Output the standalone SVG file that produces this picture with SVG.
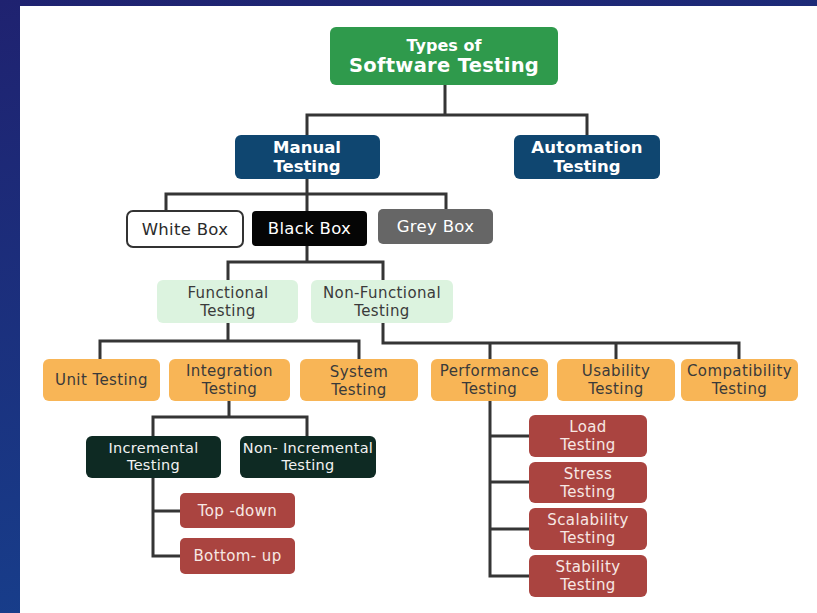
<svg xmlns="http://www.w3.org/2000/svg" width="817" height="613" viewBox="0 0 817 613">
  <defs>
    <linearGradient id="bg" x1="0" y1="0" x2="0.3" y2="1">
      <stop offset="0" stop-color="#1f2270"/>
      <stop offset="1" stop-color="#173f8c"/>
    </linearGradient>
  </defs>
  <style>
    text { font-family: "DejaVu Sans", "Open Sans", sans-serif; text-anchor: middle; }
    .root { fill: #2f9a4c; }
    .navy { fill: #0f4670; }
    .wbox { fill: #ffffff; stroke: #333333; stroke-width: 2; }
    .bbox { fill: #050505; }
    .gbox { fill: #666666; }
    .mint { fill: #dcf3df; }
    .orange { fill: #f8b556; }
    .dark { fill: #0e2a23; }
    .red { fill: #aa4440; }
    .tw { fill: #ffffff; font-weight: 700; }
    .tb { font-size: 16.5px; letter-spacing: 0.3px; }
    .tm { fill: #3a3a3a; font-size: 15px; letter-spacing: 0.4px; }
    .to { fill: #3a3a3a; font-size: 15px; letter-spacing: 0.4px; }
    .td { fill: #f2f2f2; font-size: 14.5px; letter-spacing: 0.3px; }
    .tr { fill: #f7e8e4; font-size: 15px; letter-spacing: 0.4px; }
    .conn { fill: none; stroke: #353535; stroke-width: 3; stroke-linejoin: miter; }
  </style>

  <rect width="817" height="613" fill="url(#bg)"/>
  <rect x="20" y="6" width="797" height="607" fill="#ffffff"/>

  <g id="connectors" class="conn">
    <path d="M445 85 V115 M307 135 V115 H587 V135"/>
    <path d="M307 179 V194 M166 211 V194 H446 V209 M307 194 V211"/>
    <path d="M307 246 V262 M228 280 V262 H383 V280"/>
    <path d="M228 323 V341 M100 359 V341 H359 V359"/>
    <path d="M383 323 V343 H739 V359 M490 343 V359 M616 343 V359"/>
    <path d="M229 401 V417 M153 436 V417 H307 V436"/>
    <path d="M153 478 V556 H180 M153 511 H180"/>
    <path d="M490 401 V576 H530 M490 436 H530 M490 482 H530 M490 529 H530"/>
  </g>

  <g id="root">
    <rect class="root" x="330" y="27" width="228" height="58" rx="6"/>
    <text class="tw" x="444" y="51" font-size="16">Types of</text>
    <text class="tw" x="444" y="72" font-size="19.5" letter-spacing="0.3">Software Testing</text>
  </g>

  <g id="manual">
    <rect class="navy" x="235" y="135" width="145" height="44" rx="6"/>
    <text class="tw" x="307" y="153" font-size="16.5">Manual</text>
    <text class="tw" x="307" y="172" font-size="16.5">Testing</text>
  </g>
  <g id="automation">
    <rect class="navy" x="514" y="135" width="146" height="44" rx="6"/>
    <text class="tw" x="587" y="153" font-size="16.5" letter-spacing="0.3">Automation</text>
    <text class="tw" x="587" y="172" font-size="16.5">Testing</text>
  </g>

  <g id="white-box">
    <rect class="wbox" x="127" y="211" width="116" height="36" rx="6"/>
    <text class="tb" x="185" y="235" fill="#2a2a2a">White Box</text>
  </g>
  <g id="black-box">
    <rect class="bbox" x="252" y="211" width="115" height="35" rx="4"/>
    <text class="tb" x="309.5" y="234" fill="#ffffff">Black Box</text>
  </g>
  <g id="grey-box">
    <rect class="gbox" x="378" y="209" width="115" height="35" rx="5"/>
    <text class="tb" x="435.5" y="232" fill="#ffffff">Grey Box</text>
  </g>

  <g id="functional">
    <rect class="mint" x="157" y="280" width="141" height="43" rx="6"/>
    <text class="tm" x="228" y="298">Functional</text>
    <text class="tm" x="228" y="316">Testing</text>
  </g>
  <g id="non-functional">
    <rect class="mint" x="311" y="280" width="142" height="43" rx="6"/>
    <text class="tm" x="382" y="298">Non-Functional</text>
    <text class="tm" x="382" y="316">Testing</text>
  </g>

  <g id="unit">
    <rect class="orange" x="43" y="359" width="117" height="42" rx="6"/>
    <text class="to" x="101.5" y="385">Unit Testing</text>
  </g>
  <g id="integration">
    <rect class="orange" x="169" y="359" width="121" height="42" rx="6"/>
    <text class="to" x="229.5" y="376">Integration</text>
    <text class="to" x="229.5" y="394">Testing</text>
  </g>
  <g id="system">
    <rect class="orange" x="300" y="359" width="118" height="42" rx="6"/>
    <text class="to" x="359" y="377">System</text>
    <text class="to" x="359" y="395">Testing</text>
  </g>
  <g id="performance">
    <rect class="orange" x="431" y="359" width="117" height="42" rx="6"/>
    <text class="to" x="489.5" y="376">Performance</text>
    <text class="to" x="489.5" y="394">Testing</text>
  </g>
  <g id="usability">
    <rect class="orange" x="557" y="359" width="118" height="42" rx="6"/>
    <text class="to" x="616" y="376">Usability</text>
    <text class="to" x="616" y="394">Testing</text>
  </g>
  <g id="compatibility">
    <rect class="orange" x="681" y="359" width="117" height="42" rx="6"/>
    <text class="to" x="739.5" y="376">Compatibility</text>
    <text class="to" x="739.5" y="394">Testing</text>
  </g>

  <g id="incremental">
    <rect class="dark" x="86" y="436" width="135" height="42" rx="6"/>
    <text class="td" x="153.5" y="453">Incremental</text>
    <text class="td" x="153.5" y="470">Testing</text>
  </g>
  <g id="non-incremental">
    <rect class="dark" x="240" y="436" width="136" height="42" rx="6"/>
    <text class="td" x="308" y="453">Non- Incremental</text>
    <text class="td" x="308" y="470">Testing</text>
  </g>

  <g id="top-down">
    <rect class="red" x="180" y="493" width="115" height="35" rx="5"/>
    <text class="tr" x="237.5" y="516">Top -down</text>
  </g>
  <g id="bottom-up">
    <rect class="red" x="180" y="538" width="115" height="36" rx="5"/>
    <text class="tr" x="237.5" y="561">Bottom- up</text>
  </g>

  <g id="load">
    <rect class="red" x="529" y="415" width="118" height="42" rx="6"/>
    <text class="tr" x="588" y="432">Load</text>
    <text class="tr" x="588" y="450">Testing</text>
  </g>
  <g id="stress">
    <rect class="red" x="529" y="462" width="118" height="41" rx="6"/>
    <text class="tr" x="588" y="479">Stress</text>
    <text class="tr" x="588" y="497">Testing</text>
  </g>
  <g id="scalability">
    <rect class="red" x="529" y="508" width="118" height="42" rx="6"/>
    <text class="tr" x="588" y="525">Scalability</text>
    <text class="tr" x="588" y="543">Testing</text>
  </g>
  <g id="stability">
    <rect class="red" x="529" y="555" width="118" height="42" rx="6"/>
    <text class="tr" x="588" y="572">Stability</text>
    <text class="tr" x="588" y="590">Testing</text>
  </g>
</svg>
